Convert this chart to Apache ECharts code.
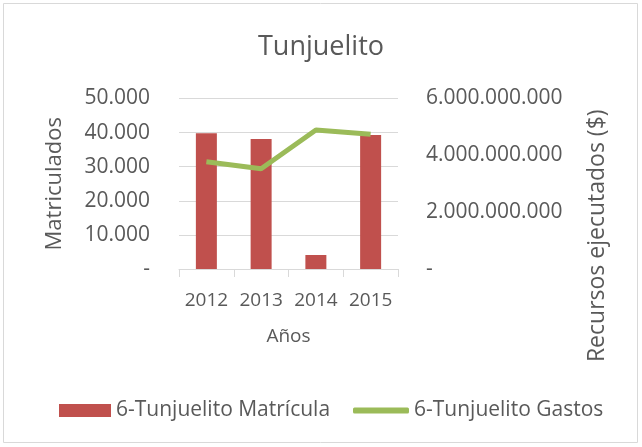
<!DOCTYPE html>
<html><head><meta charset="utf-8">
<script src="https://cdn.jsdelivr.net/npm/echarts@6/dist/echarts.min.js"></script>
<style>html,body{margin:0;padding:0;background:#fff}#c{width:642px;height:447px}</style>
</head><body><div id="c"></div>
<script>
const categories = ['2012', '2013', '2014', '2015'];
const matricula = [39800, 38100, 4100, 39300];
const gastos = [3776000000, 3530000000, 4890000000, 4740000000];
const leftTicks = [0, 10000, 20000, 30000, 40000, 50000];
const rightTicks = [0, 2000000000, 4000000000, 6000000000];

function fmt(v) {
  if (v === 0) return '-';
  return String(Math.round(v)).replace(/\B(?=(\d{3})+(?!\d))/g, '.');
}
const FONT = '"Open Sans", sans-serif';
const TXT = '#595959';
const chart = echarts.init(document.getElementById('c'));
chart.setOption({
  animation: false,
  textStyle: { fontFamily: FONT, color: TXT },
  title: {
    text: 'Tunjuelito', left: 'center', top: 29,
    textStyle: { fontFamily: FONT, fontSize: 27, fontWeight: 'normal', color: TXT }
  },
  graphic: [{
    type: 'rect', shape: { x: 3.5, y: 3.5, width: 634, height: 439 },
    style: { fill: 'none', stroke: '#d9d9d9', lineWidth: 1 }, silent: true
  }],
  grid: { left: 179, right: 244, top: 98.5, bottom: 178 },
  legend: [{
    left: 59, top: 400, padding: 0, itemWidth: 52, itemHeight: 13,
    textStyle: { fontFamily: FONT, fontSize: 21, color: TXT },
    data: [{ name: '6-Tunjuelito Matrícula', icon: 'rect' }]
  }, {
    left: 353, top: 400, padding: 0, itemWidth: 56, itemHeight: 6,
    textStyle: { fontFamily: FONT, fontSize: 21, color: TXT },
    data: [{ name: '6-Tunjuelito Gastos', icon: 'roundRect' }]
  }],
  xAxis: {
    type: 'category', data: categories,
    name: 'Años', nameLocation: 'middle', nameGap: 58,
    nameTextStyle: { fontFamily: FONT, fontSize: 19, color: TXT },
    axisLine: { lineStyle: { color: '#d9d9d9', width: 1 } },
    axisTick: { show: true, length: 8, lineStyle: { color: '#d9d9d9' } },
    axisLabel: { fontFamily: FONT, fontSize: 19, color: TXT, margin: 22, interval: 0, hideOverlap: false }
  },
  yAxis: [{
    type: 'value', min: leftTicks[0], max: leftTicks[leftTicks.length - 1], interval: 10000,
    name: 'Matriculados', nameLocation: 'middle', nameGap: 113, nameRotate: 90,
    nameTextStyle: { fontFamily: FONT, fontSize: 22, color: TXT },
    axisLine: { show: false }, axisTick: { show: false },
    splitLine: { lineStyle: { color: '#d9d9d9', width: 1 } },
    axisLabel: { fontFamily: FONT, fontSize: 21, color: TXT, margin: 29, formatter: fmt }
  }, {
    type: 'value', min: rightTicks[0], max: rightTicks[rightTicks.length - 1], interval: 2000000000,
    name: 'Recursos ejecutados ($)', nameLocation: 'middle', nameGap: 188, nameRotate: 90,
    nameTextStyle: { fontFamily: FONT, fontSize: 23, color: TXT, padding: [0, 104, 0, 0] },
    axisLine: { show: false }, axisTick: { show: false }, splitLine: { show: false },
    axisLabel: { fontFamily: FONT, fontSize: 21, color: TXT, margin: 28, formatter: fmt }
  }],
  series: [{
    name: '6-Tunjuelito Matrícula', type: 'bar', data: matricula, yAxisIndex: 0,
    barWidth: 21, itemStyle: { color: '#C0504D' }
  }, {
    name: '6-Tunjuelito Gastos', type: 'line', data: gastos, yAxisIndex: 1,
    symbol: 'none', lineStyle: { color: '#9BBB59', width: 5 }, itemStyle: { color: '#9BBB59' }
  }]
});
</script></body></html>
